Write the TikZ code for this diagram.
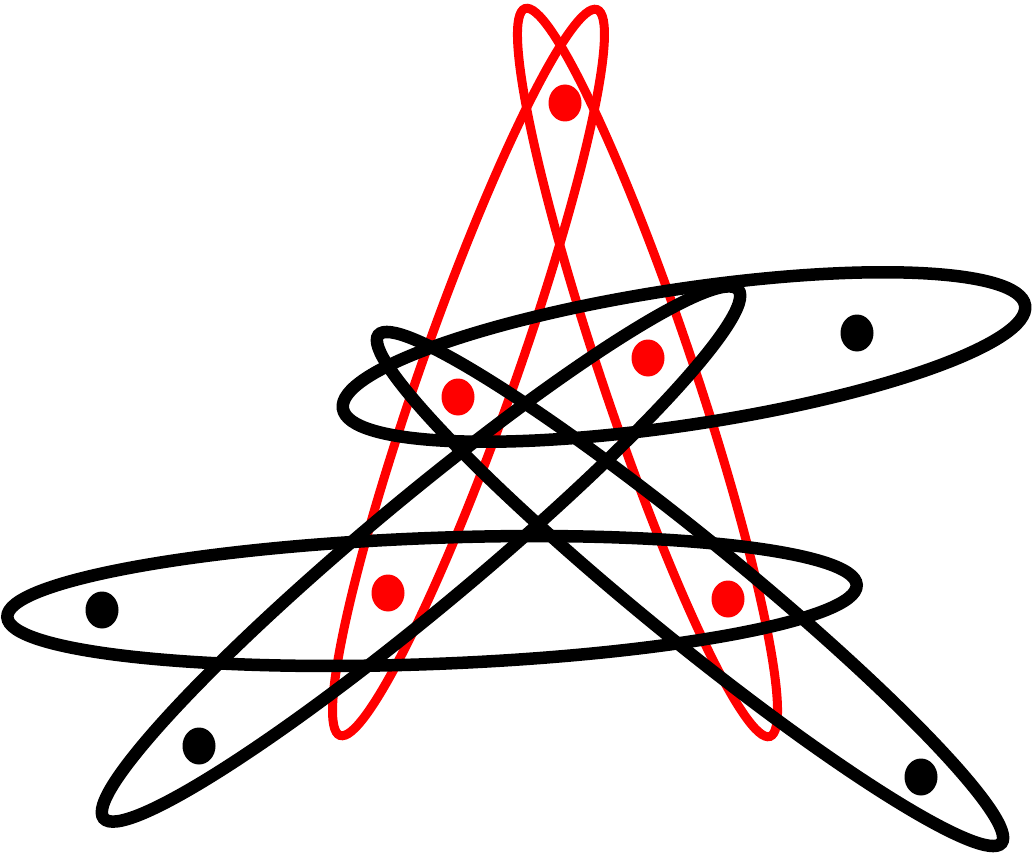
\documentclass[tikz,border=0pt]{standalone}
\usetikzlibrary{shapes.geometric}
\begin{document}
\begin{tikzpicture}[x=1pt,y=-1pt,
  edgeR/.style={draw=red, line width=9pt, ellipse, inner sep=0pt, outer sep=0pt},
  edgeB/.style={draw=black, line width=12.5pt, ellipse, inner sep=0pt, outer sep=0pt},
  rdot/.style={ellipse, fill=red, inner sep=0pt, minimum width=33pt, minimum height=37pt},
  bdot/.style={ellipse, fill=black, inner sep=0pt, minimum width=33pt, minimum height=37pt}]
\useasboundingbox (0,0) rectangle (1034,864);
% red hyperedges
\node[edgeR, minimum width=770pt, minimum height=94pt, rotate=70.5] (eA) at (468.5,372.5) {};
\node[edgeR, minimum width=768pt, minimum height=92pt, rotate=-71.4] (eB) at (647.5,372.5) {};
% black hyperedges
\node[edgeB, minimum width=690pt, minimum height=136pt, rotate=8.6] (eC) at (684,357) {};
\node[edgeB, minimum width=850pt, minimum height=126pt, rotate=2.16] (eD) at (432,601) {};
\node[edgeB, minimum width=826pt, minimum height=108pt, rotate=39.8] (eE) at (421,554) {};
\node[edgeB, minimum width=804pt, minimum height=100pt, rotate=-39.2] (eF) at (690,589) {};
% vertices
\node[rdot] (r1) at (565,103) {};
\node[rdot] (r2) at (648,358) {};
\node[rdot] (r3) at (458,397) {};
\node[rdot] (r4) at (388,593) {};
\node[rdot] (r5) at (728,599) {};
\node[bdot] (b1) at (857,333) {};
\node[bdot] (b2) at (102,610) {};
\node[bdot] (b3) at (199,746) {};
\node[bdot] (b4) at (921,777) {};
\end{tikzpicture}
\end{document}
